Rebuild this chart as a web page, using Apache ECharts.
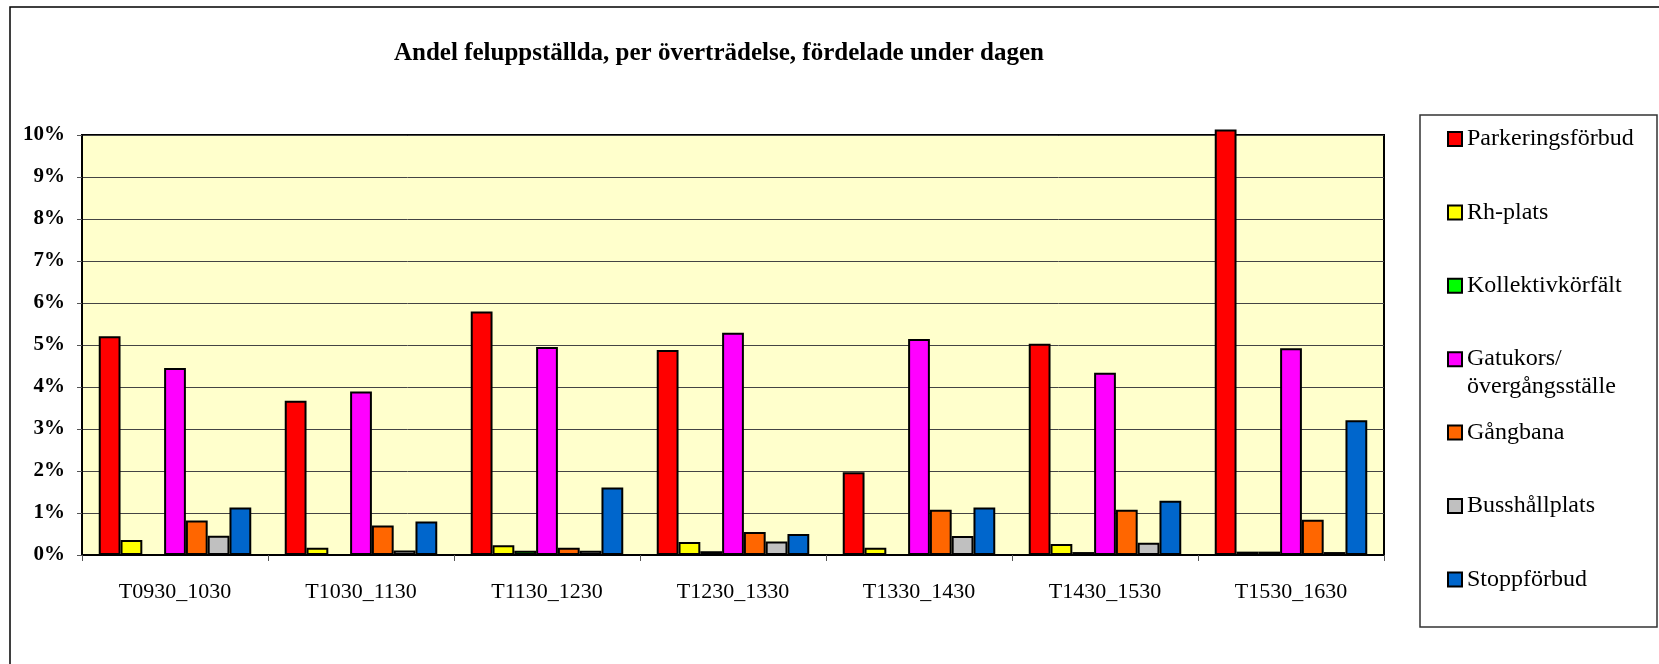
<!DOCTYPE html>
<html>
<head>
<meta charset="utf-8">
<script src="https://cdn.jsdelivr.net/npm/echarts@6/dist/echarts.min.js"></script>
<style>
  html, body { margin: 0; padding: 0; background: #fff; }
  #chart { width: 1659px; height: 664px; }
</style>
</head>
<body>
<div id="chart"></div>
<script>
// tidsintervall
const categories = ['T0930_1030', 'T1030_1130', 'T1130_1230', 'T1230_1330', 'T1330_1430', 'T1430_1530', 'T1530_1630'];

// andel i procent per överträdelse
const parkeringsforbud = [5.21, 3.67, 5.80, 4.88, 1.97, 5.03, 10.13];
const rhPlats          = [0.36, 0.17, 0.23, 0.31, 0.17, 0.26, 0.08];
const kollektivkorfalt = [0, 0, 0.10, 0.09, 0, 0.07, 0.08];
const gatukors         = [4.45, 3.89, 4.95, 5.29, 5.14, 4.34, 4.92];
const gangbana         = [0.82, 0.70, 0.17, 0.55, 1.08, 1.08, 0.84];
const busshallplats    = [0.46, 0.11, 0.10, 0.32, 0.45, 0.29, 0.07];
const stoppforbud      = [1.13, 0.80, 1.61, 0.50, 1.13, 1.29, 3.21];

const seriesNames = ['Parkeringsförbud', 'Rh-plats', 'Kollektivkörfält', 'Gatukors/\növergångsställe', 'Gångbana', 'Busshållplats', 'Stoppförbud'];
const seriesData = [parkeringsforbud, rhPlats, kollektivkorfalt, gatukors, gangbana, busshallplats, stoppforbud];
const colors = ['#FF0000', '#FFFF00', '#00FF00', '#FF00FF', '#FF6600', '#C0C0C0', '#0066CC'];

const serif = "'Liberation Serif', 'DejaVu Serif', serif";

const chart = echarts.init(document.getElementById('chart'));

const option = {
    backgroundColor: '#fff',
    animation: false,
    title: {
        text: 'Andel feluppställda, per överträdelse, fördelade under dagen',
        left: 389,
        top: 36,
        textStyle: {
            fontFamily: serif,
            fontWeight: 'bold',
            fontSize: 25,
            color: '#000'
        }
    },
    legend: {
        orient: 'vertical',
        left: 1447,
        top: 97,
        padding: 0,
        itemWidth: 14,
        itemHeight: 14,
        itemGap: -10.6,
        icon: 'rect',
        // tre rader per post: tom rad, namnet i mitten (i höjd med rutan), ev. andra rad
        formatter: function (name) {
            return '\n' + name + (name.indexOf('\n') >= 0 ? '' : '\n');
        },
        textStyle: {
            fontFamily: serif,
            fontSize: 24,
            lineHeight: 28,
            color: '#000'
        },
        data: seriesNames
    },
    grid: {
        left: 82,
        top: 135,
        width: 1302,
        height: 420,
        show: true,
        backgroundColor: '#FFFFCC',
        borderColor: '#000',
        borderWidth: 2
    },
    xAxis: {
        type: 'category',
        data: categories,
        axisLine: { lineStyle: { color: '#000', width: 2 } },
        axisTick: { show: true, length: 6, lineStyle: { color: '#555' } },
        axisLabel: {
            margin: 26,
            fontFamily: serif,
            fontSize: 22,
            color: '#000'
        }
    },
    yAxis: {
        type: 'value',
        min: 0,
        max: 10,
        interval: 1,
        axisLine: { show: true, lineStyle: { color: '#000', width: 2 } },
        axisTick: { show: true, length: 5, lineStyle: { color: '#555' } },
        splitLine: { lineStyle: { color: '#444', width: 1 } },
        axisLabel: {
            margin: 17,
            formatter: '{value}%',
            fontFamily: serif,
            fontWeight: 'bold',
            fontSize: 21,
            color: '#000'
        }
    },
    series: seriesNames.map(function (name, i) {
        return {
            name: name,
            type: 'bar',
            data: seriesData[i],
            barGap: '0%',
            barCategoryGap: '18%',
            clip: false,
            itemStyle: {
                color: colors[i],
                borderColor: '#000',
                borderWidth: 2
            }
        };
    }),
    graphic: [
        {   // ram runt hela diagrammet
            type: 'rect',
            shape: { x: 10, y: 7, width: 1700, height: 700 },
            style: { fill: 'none', stroke: '#000', lineWidth: 1.5 },
            silent: true
        },
        {   // ram runt förklaringen
            type: 'rect',
            shape: { x: 1420, y: 115, width: 237, height: 512 },
            style: { fill: 'none', stroke: '#333', lineWidth: 1.5 },
            silent: true
        }
    ]
};

chart.setOption(option);
</script>
</body>
</html>
